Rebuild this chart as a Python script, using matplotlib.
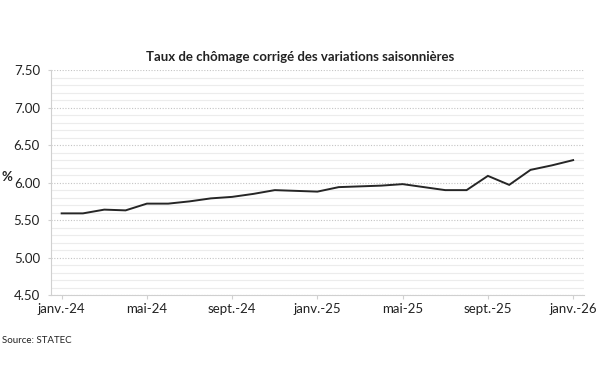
import numpy as np
import matplotlib
matplotlib.use("Agg")
import matplotlib.pyplot as plt
from matplotlib.ticker import MultipleLocator

plt.rcParams['font.family'] = ['Lato', 'DejaVu Sans']

# monthly unemployment rate, janv.-24 .. janv.-26
rate = [5.59, 5.59, 5.64, 5.63, 5.72, 5.72, 5.75, 5.79, 5.81, 5.85, 5.90, 5.89,
        5.88, 5.94, 5.95, 5.96, 5.98, 5.94, 5.90, 5.90, 6.09, 5.97, 6.17, 6.23, 6.30]
tick_labels = ["janv.-24", "mai-24", "sept.-24", "janv.-25", "mai-25", "sept.-25", "janv.-26"]
months = np.arange(len(rate))

fig = plt.figure(figsize=(6, 3.75), dpi=100)
ax = fig.add_axes([0.085, 0.213, 0.888, 0.6])

ax.plot(months, rate, color="#262626", lw=1.4, solid_joinstyle="miter")

ax.set_xlim(-0.5, len(rate) - 0.5)
ax.set_ylim(4.5, 7.5)
ax.set_xticks(months[::4])
ax.set_xticklabels(tick_labels)
ax.yaxis.set_major_locator(MultipleLocator(0.5))
ax.yaxis.set_minor_locator(MultipleLocator(0.1))
ax.yaxis.set_major_formatter(plt.FormatStrFormatter('%.2f'))

ax.grid(axis='y', which='minor', color='#ececec', lw=0.8, linestyle='-')
ax.grid(axis='y', which='major', color='#c4c4c4', lw=0.8, linestyle=(0, (1, 1.5)))
ax.set_axisbelow(True)

for s in ['top', 'right']:
    ax.spines[s].set_visible(False)
for s in ['left', 'bottom']:
    ax.spines[s].set_color('#d0d0d0')
ax.tick_params(axis='both', which='both', colors='#d0d0d0', labelcolor='#222222', labelsize=9.5)
ax.tick_params(axis='y', which='minor', length=0)
ax.tick_params(axis='x', length=3, pad=3)
ax.tick_params(axis='y', length=2.5, pad=5.5)

ax.set_ylabel('%', rotation=0, fontsize=9.5, fontweight='bold', color='#222222')
ax.yaxis.set_label_coords(-0.083, 0.5)

fig.text(0.5, 0.847, "Taux de chômage corrigé des variations saisonnières",
         ha='center', va='center', fontsize=9.5, fontweight='bold', color='#222222')
fig.text(0.004, 0.093, "Source: STATEC", ha='left', va='center', fontsize=7, color='#222222')

fig.savefig("out.png", dpi=100)
